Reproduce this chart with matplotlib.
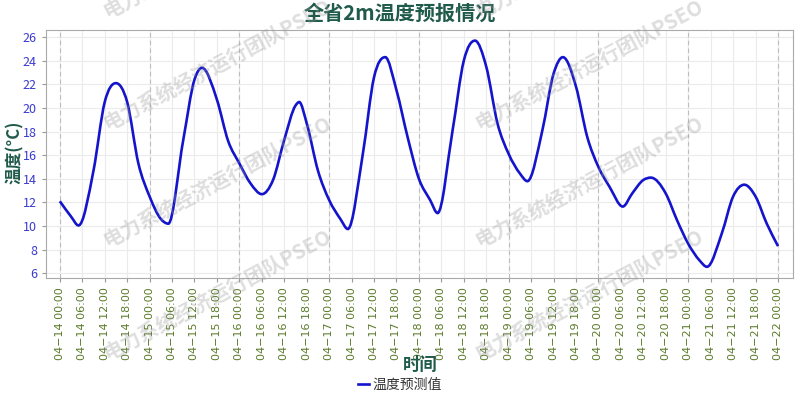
import matplotlib
matplotlib.use("Agg")
import matplotlib.pyplot as plt
from matplotlib.path import Path
from matplotlib.patches import PathPatch
from matplotlib.lines import Line2D
import numpy as np

plt.rcParams['font.family'] = ['Noto Sans CJK SC', 'DejaVu Sans']

# données (heures depuis 04-14 00:00, température en °C)
heures = [0, 3, 5, 9, 12, 15, 18, 21, 24, 27, 29, 33, 36, 38, 42, 45, 48,
          51, 54, 57, 60, 63, 64, 66, 69, 72, 75, 77, 81, 84, 87, 90, 93, 96, 99,
          101, 105, 108, 111, 114, 117, 120, 123, 125, 129, 132, 134.5,
          138, 141, 144, 147, 150.5, 153, 156, 158, 162, 165, 168, 171, 173,
          177, 180, 183, 186, 189, 192]
temp = [12.1, 10.8, 10.05, 14.7, 20.5, 22.1, 20.5, 15.3, 12.5, 10.6, 10.2,
        17.3, 22.4, 23.4, 20.7, 17.2, 15.3, 13.6, 12.7, 13.9, 17.3, 20.2, 20.5,
        18.7, 14.7, 12.2, 10.6, 9.75, 16.1, 22.6, 24.3, 21.5, 17.5, 14.0, 12.2,
        11.1, 18.1, 24.0, 25.7, 23.5, 18.7, 16.1, 14.45, 13.8, 18.1, 22.9,
        24.3, 21.8, 17.55, 15.0, 13.3, 11.65, 12.75, 13.9, 14.1, 12.75,
        10.5, 8.5, 7.1, 6.55, 9.4, 12.5, 13.5, 12.5, 10.2, 8.3]

jours = ["04-14", "04-15", "04-16", "04-17", "04-18", "04-19", "04-20", "04-21"]
heures_txt = ["00:00", "06:00", "12:00", "18:00"]
etiquettes = [j.replace("-", "\u2212") + " " + h for j in jours for h in heures_txt] + ["04\u221222 00:00"]
pos_ticks = np.arange(0, 193, 6)

fig = plt.figure(figsize=(8, 4), dpi=100)
ax = fig.add_axes([0.0575, 0.305, 0.9337, 0.62])

# courbe lissée : segments de Bézier (Hermite) passant par chaque point mesuré
x = np.array(heures, dtype=float)
y = np.array(temp)
pente = np.gradient(y, x)
for i in range(1, len(y) - 1):
    if (y[i] - y[i - 1]) * (y[i + 1] - y[i]) <= 0:   # extremum -> tangente horizontale
        pente[i] = 0.0
verts = [(x[0], y[0])]
codes = [Path.MOVETO]
for i in range(len(x) - 1):
    dx = (x[i + 1] - x[i]) / 3
    verts += [(x[i] + dx, y[i] + pente[i] * dx),
              (x[i + 1] - dx, y[i + 1] - pente[i + 1] * dx),
              (x[i + 1], y[i + 1])]
    codes += [Path.CURVE4] * 3
couleur = "#1414cc"
ax.add_patch(PathPatch(Path(verts, codes), fill=False, edgecolor=couleur, lw=1.9, zorder=3))

# grille
for t in pos_ticks:
    ax.axvline(t, color="#ebebeb", lw=0.8, zorder=0)
for v in range(6, 27, 2):
    ax.axhline(v, color="#ebebeb", lw=0.8, zorder=0)
for t in range(0, 193, 24):
    ax.axvline(t, color="#bdbdbd", lw=0.8, ls=(0, (4, 3)), zorder=1)

ax.set_xlim(-3.7, 196)
ax.set_ylim(5.6, 26.6)
ax.set_xticks(pos_ticks)
ax.set_xticklabels(etiquettes, rotation=90, fontsize=8, color="#5b7a2a", family="DejaVu Sans")
ax.set_yticks(range(6, 27, 2))
ax.tick_params(axis='y', labelsize=9, labelcolor="#3a3ad0", length=3, color="#999999")
ax.tick_params(axis='x', length=3, color="#999999")
for s in ax.spines.values():
    s.set_color("#aaaaaa")

fig.text(0.5, 0.968, "全省2m温度预报情况", ha="center", va="center", fontsize=14.5,
         fontweight="bold", color="#1f5a4a")
fig.text(0.019, 0.62, "温度(°C)", rotation=90, ha="center", va="center", fontsize=12,
         fontweight="bold", color="#1f5a4a")
fig.text(0.525, 0.088, "时间", ha="center", va="center", fontsize=12.5,
         fontweight="bold", color="#1f5a4a")

fig.legend(handles=[Line2D([], [], color=couleur, lw=1.9)], labels=["温度预测值"],
           loc="center", bbox_to_anchor=(0.5, 0.037), frameon=False, fontsize=10,
           handlelength=0.8, handletextpad=0.3, labelcolor="#333333")

# filigrane
for x0 in [108, 480]:
    for y0 in [18, 130, 247, 360]:
        fig.text(x0 / 800, 1 - y0 / 400, "电力系统经济运行团队PSEO", rotation=28,
                 rotation_mode="anchor", ha="left", va="baseline", fontsize=14.5,
                 fontweight="bold", color="#9a9a9a", alpha=0.33, zorder=10)

fig.savefig("out.png", dpi=100)
